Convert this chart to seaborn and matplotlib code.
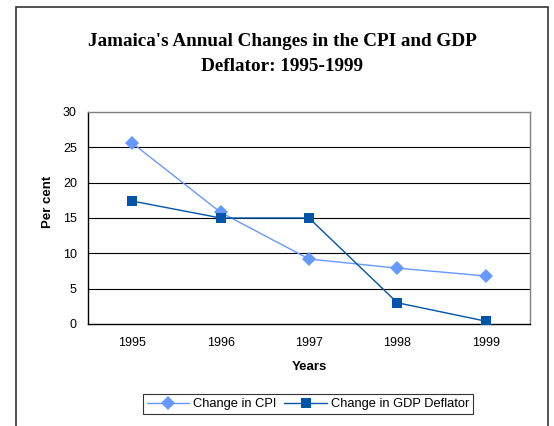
import matplotlib
matplotlib.use("Agg")
import matplotlib.pyplot as plt
import matplotlib.patches as mpatches
import seaborn as sns
import pandas as pd

years = ["1995", "1996", "1997", "1998", "1999"]
cpi_change = [25.6, 15.8, 9.2, 7.9, 6.8]
gdp_deflator_change = [17.4, 15.0, 15.0, 3.0, 0.4]
series_names = ["Change in CPI", "Change in GDP Deflator"]
y_ticks = [0, 5, 10, 15, 20, 25, 30]

df = pd.DataFrame({
    "Years": years * 2,
    "Per cent": cpi_change + gdp_deflator_change,
    "Series": [series_names[0]] * len(years) + [series_names[1]] * len(years),
})

sns.set_theme(style="white")
plt.rcParams["font.family"] = ["Liberation Sans", "DejaVu Sans"]
plt.rcParams["text.color"] = "black"

W, H = 554, 426
fig = plt.figure(figsize=(W / 100, H / 100), dpi=100)
ax = fig.add_axes([88 / W, 1 - 324 / H, (530 - 88) / W, (324 - 112) / H])

palette = {series_names[0]: "#6699FF", series_names[1]: "#0055AA"}
sns.lineplot(
    data=df, x="Years", y="Per cent", hue="Series", style="Series",
    markers={series_names[0]: "D", series_names[1]: "s"},
    dashes=False, palette=palette, ax=ax, linewidth=1.0,
    markersize=7.5, markeredgewidth=0, legend=False, zorder=3,
)

ax.set_xlim(-0.5, len(years) - 0.5)
ax.set_ylim(0, 30)
ax.set_yticks(y_ticks)
ax.set_yticklabels([str(t) for t in y_ticks], fontsize=9)

# category boundaries carry the tick marks, centres carry the labels
ax.set_xticks([i - 0.5 for i in range(len(years) + 1)])
ax.set_xticklabels([])
ax.set_xticks(range(len(years)), minor=True)
ax.set_xticklabels(years, minor=True, fontsize=9)
ax.tick_params(axis="x", which="major", direction="out", length=5, width=0.8, color="black")
ax.tick_params(axis="x", which="minor", length=0, pad=9)
ax.tick_params(axis="y", direction="out", length=5, width=0.8, color="black", pad=3)
ax.tick_params(axis="both", which="both", labelcolor="black")

for y in y_ticks[1:-1]:
    ax.axhline(y, color="black", linewidth=0.8, zorder=1)

for side in ("left", "bottom"):
    ax.spines[side].set_color("black")
    ax.spines[side].set_linewidth(1.0)
for side in ("top", "right"):
    ax.spines[side].set_color("#808080")
    ax.spines[side].set_linewidth(1.0)

ax.set_xlabel("")
ax.set_ylabel("")
fig.text(309 / W, 1 - 367 / H, "Years", ha="center", va="center",
         fontsize=9.5, fontweight="bold", color="black")
fig.text(48 / W, 1 - 202 / H, "Per cent", ha="center", va="center",
         rotation=90, fontsize=9.5, fontweight="bold", color="black")

title_font = dict(family=["Liberation Serif", "DejaVu Serif"], fontsize=13.8,
                  fontweight="bold", ha="center", va="baseline", color="black")
fig.text(282 / W, 1 - 46 / H, "Jamaica's Annual Changes in the CPI and GDP", **title_font)
fig.text(282 / W, 1 - 71 / H, "Deflator: 1995-1999", **title_font)

handles = [
    plt.Line2D([], [], color=palette[series_names[0]], marker="D", markersize=7.5,
               markeredgewidth=0, linewidth=1.0),
    plt.Line2D([], [], color=palette[series_names[1]], marker="s", markersize=7.5,
               markeredgewidth=0, linewidth=1.0),
]
leg = fig.legend(handles, series_names, loc="center", bbox_to_anchor=(308 / W, 1 - 404 / H),
                 ncol=2, fontsize=9.3, frameon=True, fancybox=False, handlelength=3.3,
                 handletextpad=0.3, columnspacing=0.6, borderpad=0.3, borderaxespad=0)
leg.get_frame().set_edgecolor("black")
leg.get_frame().set_linewidth(0.8)
for t in leg.get_texts():
    t.set_color("black")

border = mpatches.Rectangle((16 / W, -0.05), (548 - 16) / W, 1.05 - 7 / H,
                            transform=fig.transFigure, fill=False,
                            edgecolor="#333333", linewidth=1.2)
fig.patches.append(border)

fig.savefig("out.png", dpi=100)
